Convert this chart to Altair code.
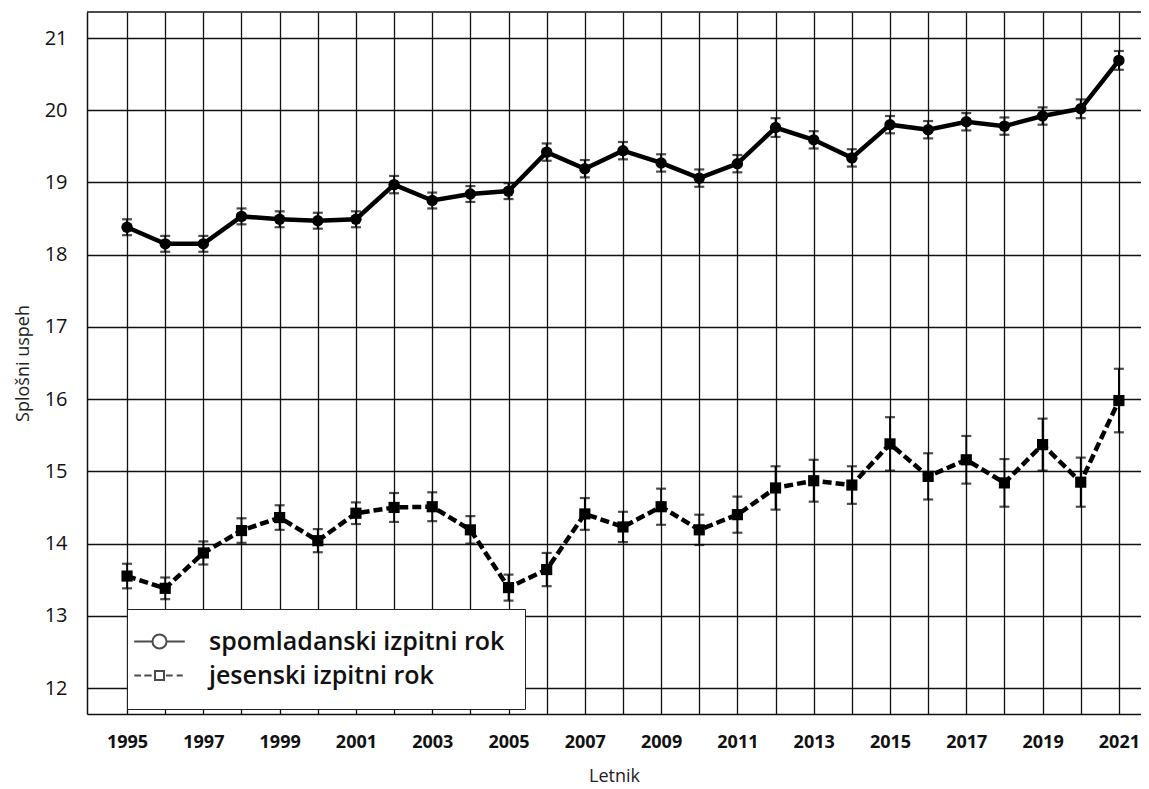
import altair as alt
import pandas as pd

years = list(range(1995, 2022))
series_names = ["spomladanski izpitni rok", "jesenski izpitni rok"]

spring = [18.38, 18.15, 18.15, 18.53, 18.49, 18.47, 18.49, 18.97, 18.75, 18.84,
          18.88, 19.42, 19.19, 19.44, 19.27, 19.06, 19.26, 19.76, 19.59, 19.34,
          19.80, 19.73, 19.84, 19.78, 19.92, 20.02, 20.69]
spring_err = [0.11, 0.11, 0.11, 0.11, 0.11, 0.11, 0.11, 0.12, 0.11, 0.11,
              0.11, 0.12, 0.12, 0.12, 0.12, 0.12, 0.12, 0.13, 0.12, 0.12,
              0.12, 0.12, 0.12, 0.12, 0.12, 0.13, 0.13]
autumn = [13.55, 13.38, 13.87, 14.18, 14.36, 14.04, 14.42, 14.50, 14.51, 14.19,
          13.39, 13.64, 14.41, 14.23, 14.51, 14.19, 14.40, 14.77, 14.87, 14.81,
          15.38, 14.93, 15.16, 14.84, 15.37, 14.85, 15.98]
autumn_err = [0.17, 0.15, 0.16, 0.17, 0.17, 0.16, 0.15, 0.20, 0.20, 0.19,
              0.18, 0.23, 0.22, 0.21, 0.25, 0.21, 0.25, 0.30, 0.29, 0.26,
              0.37, 0.32, 0.33, 0.33, 0.36, 0.34, 0.44]

y_ticks = [12, 13, 14, 15, 16, 17, 18, 19, 20, 21]
y_domain = [11.64, 21.36]
x_domain = [1993.95, 2021.58]

rows = []
for name, vals, errs in [(series_names[0], spring, spring_err),
                         (series_names[1], autumn, autumn_err)]:
    for yr, v, e in zip(years, vals, errs):
        rows.append({"series": name, "year": yr, "value": v,
                     "lo": round(v - e, 3), "hi": round(v + e, 3)})
df = pd.DataFrame(rows)
legend_df = pd.DataFrame({"series": series_names,
                          "year": [years[0], years[0]],
                          "value": [y_ticks[0], y_ticks[0]]})
top_df = pd.DataFrame({"value": [y_domain[1]]})

FONT = "Open Sans"

x_scale = alt.Scale(domain=x_domain, nice=False, zero=False)
y_scale = alt.Scale(domain=y_domain, nice=False, zero=False)

x_axis = alt.Axis(values=years, format="d",
                  labelExpr="datum.value % 2 == 1 ? datum.label : ''",
                  labelFlush=False, labelOverlap=False, ticks=False,
                  labelFontSize=18, labelFontWeight="bold", labelPadding=19,
                  labelColor="#111", title="Letnik", titleFontSize=18,
                  titleFontWeight="normal", titlePadding=16, titleColor="#222",
                  domainColor="#111", domainWidth=1.5,
                  gridColor="#111", gridWidth=1.3, gridOpacity=1)
y_axis = alt.Axis(values=y_ticks, format="d",
                  labelOverlap=False, labelFlush=False, grid=True,
                  ticks=False, labelFontSize=20, labelFontWeight="normal",
                  labelPadding=20, labelColor="#111",
                  title="Splošni uspeh", titleFontSize=18,
                  titleFontWeight="normal", titlePadding=12, titleColor="#222",
                  domainColor="#111", domainWidth=1.5,
                  gridColor="#111", gridWidth=1.3, gridOpacity=1)

X = alt.X("year:Q", scale=x_scale, axis=x_axis, title="Letnik")


def Y(field):
    return alt.Y(f"{field}:Q", scale=y_scale, axis=y_axis, title="Splošni uspeh")


base = alt.Chart(df)

err_rules = base.mark_rule(color="black", strokeWidth=1.8).encode(
    x=X, y=Y("lo"), y2="hi:Q")
caps_lo = base.mark_tick(orient="horizontal", size=10, thickness=2.2,
                         color="black").encode(x=X, y=Y("lo"))
caps_hi = base.mark_tick(orient="horizontal", size=10, thickness=2.2,
                         color="black").encode(x=X, y=Y("hi"))

top_border = alt.Chart(top_df).mark_rule(color="#111", strokeWidth=1.3).encode(
    y=Y("value"))

line_spring = base.transform_filter(alt.datum.series == series_names[0]).mark_line(
    color="black", strokeWidth=4.5).encode(x=X, y=Y("value"))
line_autumn = base.transform_filter(alt.datum.series == series_names[1]).mark_line(
    color="black", strokeWidth=4.5, strokeDash=[9, 4]).encode(x=X, y=Y("value"))

pts_spring = base.transform_filter(alt.datum.series == series_names[0]).mark_point(
    shape="circle", filled=True, size=130, color="black", opacity=1).encode(
    x=X, y=Y("value"))
pts_autumn = base.transform_filter(alt.datum.series == series_names[1]).mark_point(
    shape="square", filled=True, size=125, color="black", opacity=1).encode(
    x=X, y=Y("value"))

path_spring = ("M-2.3,0H-0.64M0.64,0H2.3"
               "M-0.64,0A0.64,0.64 0 1,0 0.64,0A0.64,0.64 0 1,0 -0.64,0")
path_autumn = ("M-2.29,0H-1.68M-1.38,0H-0.71M0.59,0H1.2M1.56,0H2.11"
               "M-0.41,-0.41H0.41V0.41H-0.41Z")

legend_layer = alt.Chart(legend_df).mark_point(
    filled=False, color="black", strokeWidth=2, size=0).encode(
    x=X, y=Y("value"),
    shape=alt.Shape("series:N",
                    scale=alt.Scale(domain=series_names,
                                    range=[path_spring, path_autumn]),
                    legend=alt.Legend(orient="none", legendX=40, legendY=597,
                                      title=None, fillColor="white",
                                      strokeColor="#222", padding=20,
                                      symbolSize=484, symbolStrokeWidth=2,
                                      symbolStrokeColor="black",
                                      symbolFillColor="white",
                                      labelFont=FONT, labelFontSize=25,
                                      labelFontWeight=600, labelColor="#111",
                                      labelOffset=37, rowPadding=8,
                                      labelExpr="datum.label + '\u00a0\u00a0\u00a0\u00a0'",
                                      labelLimit=500)))

chart = alt.layer(err_rules, caps_lo, caps_hi, top_border, line_spring,
                  line_autumn, pts_spring, pts_autumn, legend_layer).properties(
    width=1054, height=702,
    autosize=alt.AutoSizeParams(type="none"),
    padding={"left": 79, "top": 4, "right": 0, "bottom": 78},
).configure(font=FONT).configure_view(stroke=None)

chart.save("out.html", embed_options={"renderer": "svg", "actions": False})
